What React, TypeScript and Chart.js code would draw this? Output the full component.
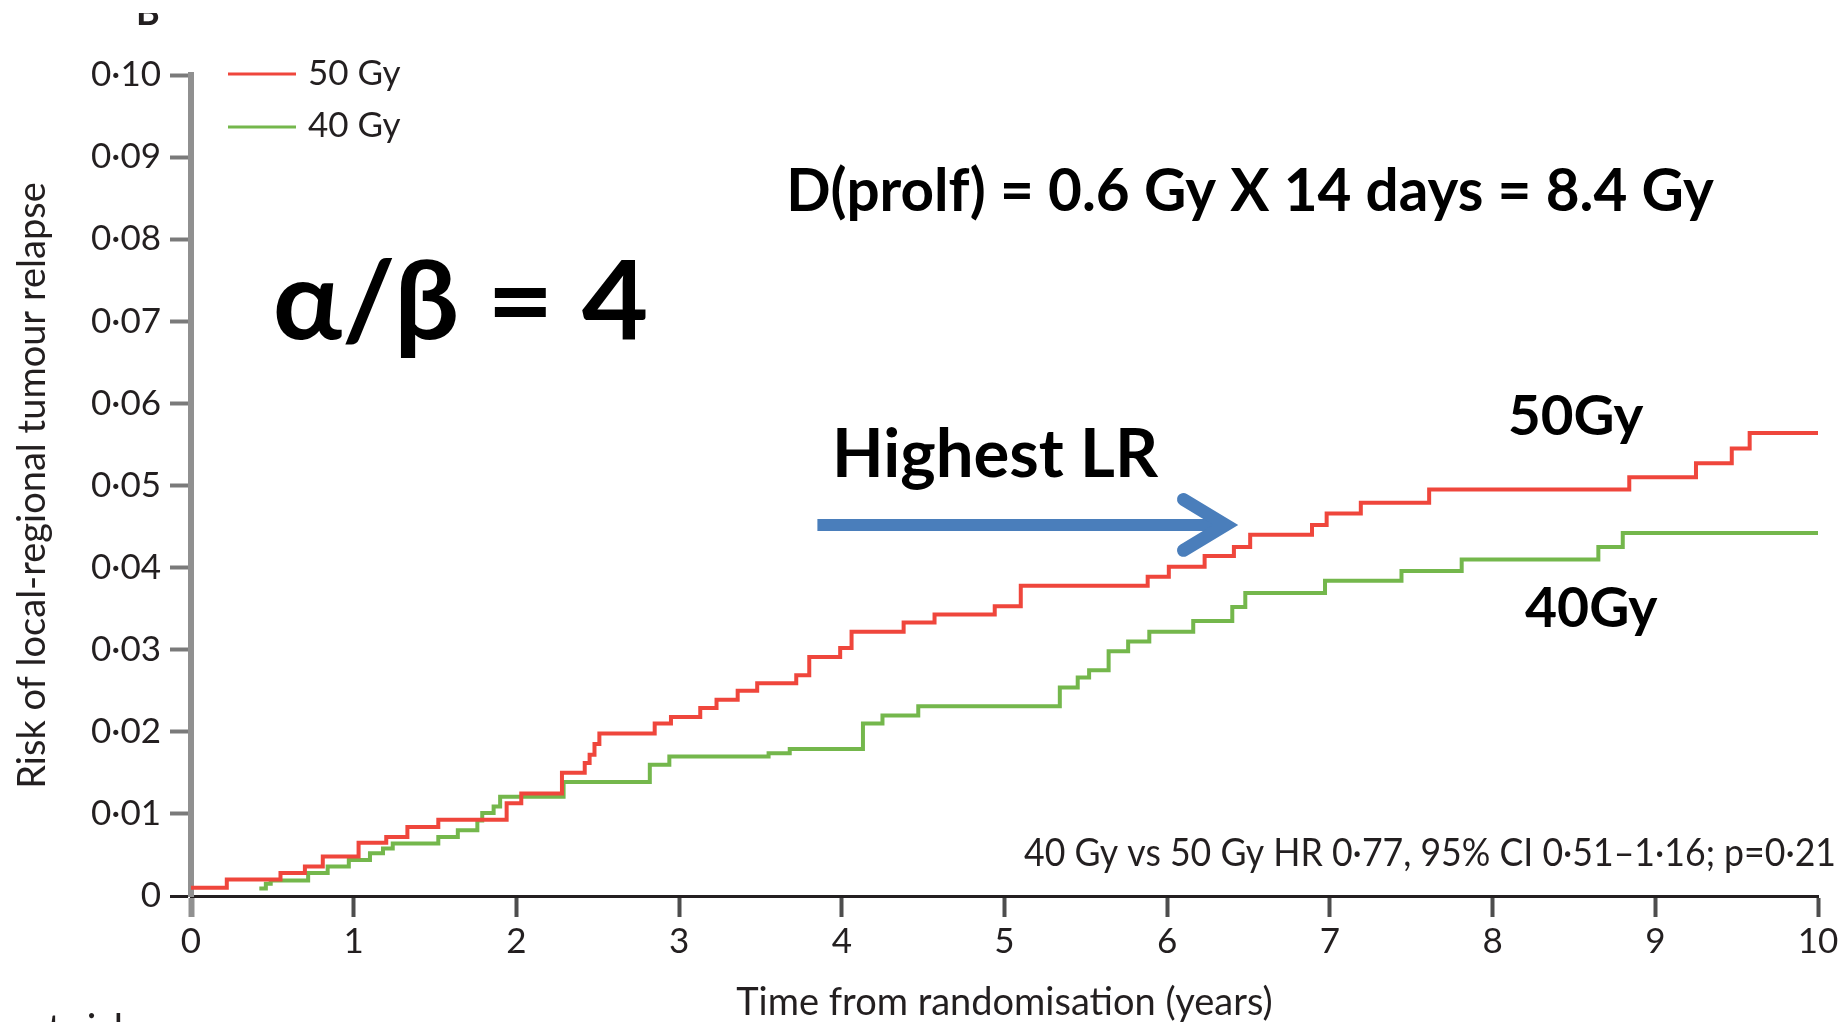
import React, { useEffect, useRef } from 'react';
import { Chart, registerables } from 'chart.js';

Chart.register(...registerables);

// Axis ticks
const xTickLabels = ['0', '1', '2', '3', '4', '5', '6', '7', '8', '9', '10'];
const yTickLabels = ['0', '0·01', '0·02', '0·03', '0·04', '0·05', '0·06', '0·07', '0·08', '0·09', '0·10'];

// Cumulative risk of local-regional relapse, 50 Gy arm (step starts, years)
const gy50Times = [
  0, 0.22, 0.55, 0.70, 0.81, 1.03, 1.20, 1.33, 1.52, 1.94, 2.03, 2.28, 2.42, 2.45, 2.48, 2.51,
  2.85, 2.95, 3.13, 3.23, 3.36, 3.48, 3.72, 3.80, 3.99, 4.06, 4.38, 4.57, 4.94, 5.10, 5.88,
  6.01, 6.23, 6.41, 6.51, 6.89, 6.98, 7.19, 7.61, 8.84, 9.25, 9.47, 9.58, 10.0,
];
const gy50Risk = [
  0.0010, 0.0020, 0.0028, 0.0036, 0.0048, 0.0065, 0.0072, 0.0084, 0.0093, 0.0113, 0.0125, 0.0150, 0.0162, 0.0172, 0.0185, 0.0198,
  0.0210, 0.0218, 0.0229, 0.0239, 0.0250, 0.0259, 0.0269, 0.0291, 0.0302, 0.0322, 0.0333, 0.0343, 0.0353, 0.0378, 0.0389,
  0.0401, 0.0414, 0.0425, 0.0440, 0.0452, 0.0466, 0.0479, 0.0495, 0.0510, 0.0527, 0.0545, 0.0564, 0.0564,
];

// Cumulative risk of local-regional relapse, 40 Gy arm
const gy40Times = [
  0.42, 0.46, 0.49, 0.72, 0.84, 0.97, 1.10, 1.18, 1.24, 1.52, 1.64, 1.76, 1.79, 1.86, 1.90, 2.29,
  2.82, 2.94, 3.55, 3.68, 4.13, 4.25, 4.47, 5.34, 5.45, 5.52, 5.64, 5.76, 5.89, 6.16, 6.40,
  6.48, 6.97, 7.44, 7.81, 8.65, 8.80, 10.0,
];
const gy40Risk = [
  0.0009, 0.0015, 0.0019, 0.0028, 0.0036, 0.0044, 0.0052, 0.0058, 0.0064, 0.0072, 0.0080, 0.0092, 0.0101, 0.0109, 0.0121, 0.0139,
  0.0160, 0.0170, 0.0174, 0.0179, 0.0210, 0.0220, 0.0231, 0.0254, 0.0266, 0.0275, 0.0298, 0.0310, 0.0322, 0.0335, 0.0352,
  0.0369, 0.0384, 0.0396, 0.0410, 0.0425, 0.0442, 0.0442,
];

const seriesLabels = ['50 Gy', '40 Gy'];
const seriesColors = ['#ef463c', '#74b74c'];

const xTitle = 'Time from randomisation (years)';
const yTitle = 'Risk of local-regional tumour relapse';

const FONT = "Lato, 'Open Sans', 'DejaVu Sans', sans-serif";
const INK = '#231f20';

// Text placed on the plot, anchored in data units (left/right in years, baseline in risk)
type Note = { text: string; t0: number; t1: number; v: number; cap: number; weight: string; color: string };
const notes: Note[] = [
  { text: 'D(prolf) = 0.6 Gy X 14 days = 8.4 Gy', t0: 3.682, t1: 9.361, v: 0.08343, cap: 43, weight: '700', color: '#000' },
  { text: 'α/β = 4', t0: 0.522, t1: 2.797, v: 0.06784, cap: 78, weight: '700', color: '#000' },
  { text: 'Highest LR', t0: 3.97, t1: 5.95, v: 0.05103, cap: 48, weight: '700', color: '#000' },
  { text: '50Gy', t0: 8.107, t1: 8.93, v: 0.05615, cap: 40, weight: '700', color: '#000' },
  { text: '40Gy', t0: 8.199, t1: 9.017, v: 0.03276, cap: 40, weight: '700', color: '#000' },
  { text: '40 Gy vs 50 Gy HR 0·77, 95% CI 0·51–1·16; p=0·21', t0: 5.12, t1: 10.1, v: 0.00365, cap: 27, weight: '400', color: INK },
];

// Arrow pointing at the highest local-regional relapse curve
const arrow = { tFrom: 3.85, tTo: 6.39, v: 0.0452, headBack: 0.29, headSpread: 0.0031 };

function drawFitted(ctx: CanvasRenderingContext2D, n: Note, x0: number, x1: number, base: number) {
  const size = n.cap / 0.7165;
  ctx.save();
  ctx.font = `${n.weight} ${size}px ${FONT}`;
  ctx.textAlign = 'left';
  ctx.textBaseline = 'alphabetic';
  const m = ctx.measureText(n.text);
  const ink = m.actualBoundingBoxLeft + m.actualBoundingBoxRight;
  ctx.translate(x0, base);
  ctx.scale((x1 - x0) / ink, 1);
  ctx.fillStyle = n.color;
  ctx.fillText(n.text, m.actualBoundingBoxLeft, 0);
  ctx.restore();
}

const overlayPlugin = {
  id: 'overlay',
  afterDraw(chart: any) {
    const { ctx, scales } = chart;
    const x = scales.x;
    const y = scales.y;

    // legend
    ctx.save();
    chart.data.datasets.forEach((ds: any, i: number) => {
      const ly = [74, 127][i];
      ctx.strokeStyle = ds.borderColor;
      ctx.lineWidth = 3;
      ctx.beginPath();
      ctx.moveTo(228, ly);
      ctx.lineTo(296, ly);
      ctx.stroke();
      ctx.fillStyle = INK;
      ctx.font = `35px ${FONT}`;
      ctx.textAlign = 'left';
      ctx.textBaseline = 'alphabetic';
      ctx.fillText(ds.label, 308, [85, 137][i]);
    });
    ctx.restore();

    // arrow
    const ay = y.getPixelForValue(arrow.v);
    const ax0 = x.getPixelForValue(arrow.tFrom);
    const ax1 = x.getPixelForValue(arrow.tTo);
    const hx = x.getPixelForValue(arrow.tTo - arrow.headBack);
    const hs = y.getPixelForValue(0) - y.getPixelForValue(arrow.headSpread);
    ctx.save();
    ctx.strokeStyle = '#4a7ebb';
    ctx.lineWidth = 12;
    ctx.lineCap = 'butt';
    ctx.beginPath();
    ctx.moveTo(ax0, ay);
    ctx.lineTo(ax1 - 8, ay);
    ctx.stroke();
    ctx.lineWidth = 13;
    ctx.lineCap = 'round';
    ctx.lineJoin = 'miter';
    ctx.beginPath();
    ctx.moveTo(hx, ay - hs);
    ctx.lineTo(ax1 - 5, ay);
    ctx.lineTo(hx, ay + hs);
    ctx.stroke();
    ctx.restore();

    // annotations
    notes.forEach((n) => {
      drawFitted(ctx, n, x.getPixelForValue(n.t0), x.getPixelForValue(n.t1), y.getPixelForValue(n.v));
    });

    // panel letter and risk-table heading, partly cut by the frame
    ctx.save();
    ctx.beginPath();
    ctx.rect(0, 13, 400, 40);
    ctx.clip();
    ctx.fillStyle = INK;
    ctx.font = `700 36px ${FONT}`;
    ctx.textAlign = 'left';
    ctx.textBaseline = 'alphabetic';
    ctx.fillText('B', 136, 25);
    ctx.restore();

    ctx.save();
    ctx.fillStyle = INK;
    ctx.font = `40px ${FONT}`;
    ctx.textAlign = 'right';
    ctx.textBaseline = 'alphabetic';
    ctx.fillText('Number at risk', 134, 1043);
    ctx.restore();
  },
};

export default function App() {
  const canvasRef = useRef<HTMLCanvasElement | null>(null);

  useEffect(() => {
    const canvas = canvasRef.current;
    if (!canvas) return;
    const chart = new Chart(canvas, {
      type: 'line',
      data: {
        datasets: [
          {
            label: seriesLabels[0],
            data: gy50Times.map((t, i) => ({ x: t, y: gy50Risk[i] })),
            borderColor: seriesColors[0],
            borderWidth: 4,
            stepped: 'before',
            pointRadius: 0,
            fill: false,
          },
          {
            label: seriesLabels[1],
            data: gy40Times.map((t, i) => ({ x: t, y: gy40Risk[i] })),
            borderColor: seriesColors[1],
            borderWidth: 4,
            stepped: 'before',
            pointRadius: 0,
            fill: false,
          },
        ],
      },
      options: {
        animation: false,
        responsive: false,
        devicePixelRatio: 1,
        layout: { padding: { top: 75, right: 25, left: 0, bottom: 0 } },
        plugins: { legend: { display: false }, tooltip: { enabled: false } },
        scales: {
          x: {
            type: 'linear',
            min: 0,
            max: 10,
            afterFit: (s: any) => {
              s.height = 126;
            },
            ticks: {
              stepSize: 1,
              autoSkip: false,
              maxRotation: 0,
              padding: 4,
              color: INK,
              font: { family: FONT, size: 35 },
              callback: (_v: any, i: number) => xTickLabels[i],
            },
            grid: {
              drawOnChartArea: false,
              drawTicks: true,
              tickLength: 21,
              tickWidth: (c: any) => (c.index === 0 ? 6 : 4),
              tickColor: (c: any) => (c.index === 0 ? '#909090' : '#4d4d4d'),
            },
            border: { color: INK, width: 3 },
            title: {
              display: true,
              text: xTitle,
              color: INK,
              font: { family: FONT, size: 38 },
              padding: { top: 0, bottom: -4 },
            },
          },
          y: {
            type: 'linear',
            min: 0,
            max: 0.1,
            afterFit: (s: any) => {
              s.width = 191;
            },
            ticks: {
              stepSize: 0.01,
              autoSkip: false,
              padding: 9,
              color: INK,
              font: { family: FONT, size: 35 },
              callback: (_v: any, i: number) => yTickLabels[i],
            },
            grid: {
              drawOnChartArea: false,
              drawTicks: true,
              tickLength: 21,
              tickWidth: (c: any) => (c.index === 0 ? 3 : 4),
              tickColor: (c: any) => (c.index === 0 ? INK : '#7a7a7a'),
            },
            border: { color: '#909090', width: 6 },
            title: {
              display: true,
              text: yTitle,
              color: INK,
              font: { family: FONT, size: 38 },
              padding: { top: 10, bottom: 0 },
            },
          },
        },
      },
      plugins: [overlayPlugin],
    } as any);
    return () => chart.destroy();
  }, []);

  return (
    <div style={{ position: 'absolute', left: 0, top: 0, width: 1843, height: 1022, background: '#fff' }}>
      <canvas ref={canvasRef} width={1843} height={1022} style={{ width: 1843, height: 1022, display: 'block' }} />
    </div>
  );
}
